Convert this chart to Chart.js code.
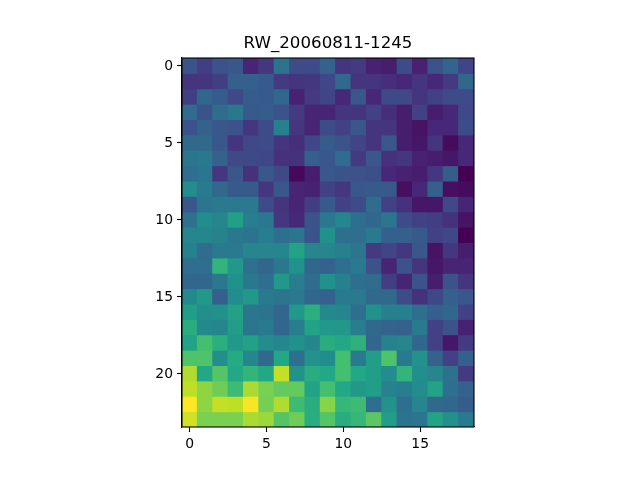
<!DOCTYPE html>
<html><head><meta charset="utf-8">
<style>html,body{margin:0;padding:0;background:#fff}canvas{display:block}</style>
<script src="https://cdn.jsdelivr.net/npm/chart.js@4"></script>
</head><body><canvas id="c" width="640" height="480"></canvas>
<script>
const titleText = "RW_20060811-1245";
const xTickValues = [0,5,10,15];
const yTickValues = [0,5,10,15,20];
const row00 = [.25,.18,.25,.27,.10,.16,.38,.23,.23,.31,.15,.17,.09,.08,.23,.09,.25,.32,.20];
const row01 = [.15,.15,.18,.30,.30,.28,.17,.15,.16,.21,.34,.15,.15,.13,.11,.15,.11,.17,.33];
const row02 = [.18,.33,.29,.22,.29,.28,.33,.09,.17,.20,.11,.27,.11,.22,.22,.15,.19,.23,.23];
const row03 = [.35,.26,.35,.40,.28,.29,.25,.17,.10,.10,.15,.15,.19,.13,.08,.19,.08,.11,.22];
const row04 = [.25,.31,.27,.25,.16,.23,.43,.16,.10,.23,.19,.27,.15,.15,.08,.05,.11,.11,.23];
const row05 = [.34,.34,.27,.15,.22,.23,.15,.13,.21,.29,.25,.20,.15,.27,.08,.06,.15,.03,.11];
const row06 = [.39,.40,.31,.22,.22,.21,.14,.14,.30,.27,.35,.17,.27,.14,.16,.09,.08,.06,.11];
const row07 = [.36,.39,.16,.27,.14,.27,.22,.02,.08,.27,.26,.25,.24,.11,.09,.08,.16,.29,.00];
const row08 = [.48,.41,.34,.28,.28,.16,.27,.10,.09,.19,.16,.27,.28,.28,.04,.11,.30,.04,.03];
const row09 = [.27,.39,.41,.41,.41,.23,.15,.10,.18,.28,.19,.23,.35,.19,.14,.06,.06,.22,.10];
const row10 = [.37,.48,.45,.56,.42,.40,.16,.11,.26,.40,.46,.36,.33,.39,.23,.19,.18,.14,.05];
const row11 = [.46,.46,.44,.40,.38,.42,.36,.39,.26,.50,.36,.36,.41,.30,.30,.28,.19,.21,.00];
const row12 = [.43,.35,.41,.41,.45,.45,.46,.58,.45,.45,.43,.39,.17,.20,.16,.27,.05,.16,.08];
const row13 = [.36,.36,.65,.53,.37,.33,.40,.51,.33,.31,.36,.41,.25,.10,.25,.15,.06,.10,.10];
const row14 = [.33,.33,.40,.50,.40,.36,.53,.42,.35,.50,.43,.36,.35,.18,.10,.25,.08,.25,.15];
const row15 = [.47,.53,.30,.48,.53,.41,.39,.41,.33,.31,.41,.41,.34,.34,.23,.14,.21,.30,.27];
const row16 = [.55,.49,.50,.57,.39,.38,.33,.53,.63,.47,.46,.36,.50,.43,.43,.36,.30,.33,.19];
const row17 = [.62,.47,.46,.55,.39,.41,.33,.42,.58,.53,.53,.42,.34,.32,.31,.41,.19,.25,.09];
const row18 = [.58,.70,.63,.53,.57,.48,.46,.50,.46,.62,.60,.64,.33,.44,.45,.33,.19,.06,.17];
const row19 = [.72,.72,.49,.61,.45,.34,.60,.36,.51,.48,.70,.41,.55,.72,.41,.51,.31,.19,.30];
const row20 = [.88,.60,.73,.60,.65,.60,.91,.51,.62,.60,.70,.60,.55,.48,.65,.49,.45,.37,.17];
const row21 = [.90,.83,.78,.68,.87,.80,.76,.76,.58,.70,.60,.53,.55,.44,.42,.48,.58,.36,.31];
const row22 = [1.0,.83,.91,.90,.99,.79,.88,.68,.62,.82,.66,.68,.36,.51,.36,.45,.34,.33,.29];
const row23 = [.93,.80,.80,.80,.87,.85,.73,.78,.62,.73,.62,.66,.74,.55,.38,.39,.58,.50,.41];
const rows = [row00,row01,row02,row03,row04,row05,row06,row07,row08,row09,row10,row11,
              row12,row13,row14,row15,row16,row17,row18,row19,row20,row21,row22,row23];

const stops = [[68,1,84],[72,36,117],[65,68,135],[53,95,141],[42,120,142],[33,145,140],
               [34,168,132],[68,191,112],[122,209,81],[189,223,38],[253,231,37]];
function viridis(v){
  const t = Math.max(0,Math.min(1,v))*10, i = Math.min(9,Math.floor(t)), f = t-i;
  const a = stops[i], b = stops[i+1];
  return `rgb(${a.map((q,k)=>Math.round(q+(b[k]-q)*f)).join(',')})`;
}
const frame = {
  id:'frame',
  afterDatasetsDraw(chart){
    const {ctx,chartArea:a} = chart;
    ctx.save();ctx.strokeStyle='#000';ctx.lineWidth=1.1;
    ctx.strokeRect(a.left,a.top,a.right-a.left,a.bottom-a.top);
    ctx.restore();
  }
};
const tickFont = {family:'"DejaVu Sans"',size:13.9};
new Chart(document.getElementById('c'),{
  type:'bar',
  data:{datasets:rows.map((row,r)=>({
    data:row.map((v,c)=>({x:c,y:[r-0.5,r+0.5]})),
    backgroundColor:row.map(viridis),
    barPercentage:1,categoryPercentage:1,grouped:false,
    borderWidth:0,inflateAmount:0.5
  }))},
  plugins:[frame],
  options:{
    responsive:false,animation:false,
    layout:{padding:{left:0,right:166,top:0,bottom:0}},
    plugins:{
      legend:{display:false},tooltip:{enabled:false},
      title:{display:true,text:titleText,color:'#000',fullSize:false,
        font:{family:'"DejaVu Sans"',size:16.67,weight:'normal',lineHeight:1.2},
        padding:{top:34,bottom:4}}
    },
    scales:{
      x:{type:'linear',offset:false,min:-0.5,max:18.5,
        afterBuildTicks(s){s.ticks=xTickValues.map(value=>({value}));},
        afterFit(s){s.height=53;},
        grid:{offset:false,drawOnChartArea:false,color:'#000',tickLength:5,tickWidth:1.1},
        border:{color:'#000',width:1.1},
        ticks:{color:'#000',font:tickFont,padding:4,maxRotation:0,autoSkip:false}},
      y:{type:'linear',reverse:true,min:-0.5,max:23.5,
        afterBuildTicks(s){s.ticks=yTickValues.map(value=>({value}));},
        afterFit(s){s.width=182;},
        grid:{drawOnChartArea:false,color:'#000',tickLength:5,tickWidth:1.1},
        border:{color:'#000',width:1.1},
        ticks:{color:'#000',font:tickFont,padding:4,autoSkip:false,labelOffset:1}}
    }
  }
});
</script></body></html>
